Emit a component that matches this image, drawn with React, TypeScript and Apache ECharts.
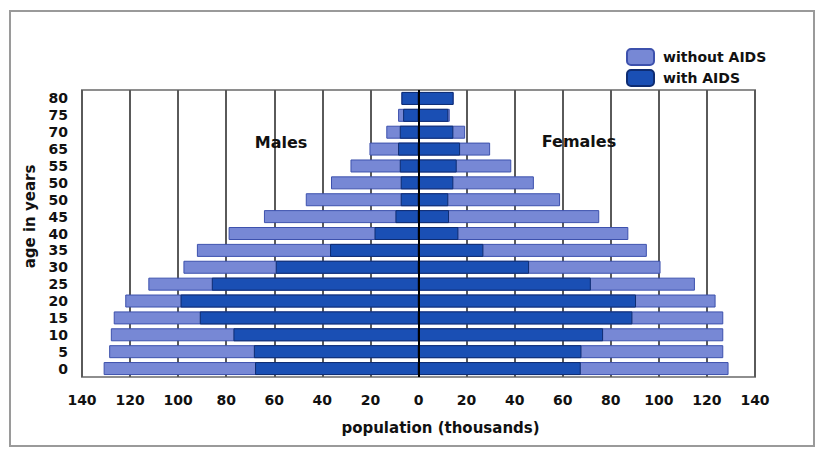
import React, { useEffect, useRef } from "react";
import * as echarts from "echarts";

// age groups, bottom to top (labels as printed in the original)
const ageLabels = ["0", "5", "10", "15", "20", "25", "30", "35", "40", "45", "50", "50", "55", "65", "70", "75", "80"];
// population in thousands
const maleWithout = [131, 128.7, 128, 126.8, 122, 112.4, 97.8, 92.2, 79, 64.3, 46.9, 36.4, 28.3, 20.4, 13.4, 8.5, 7.1];
const maleWith = [68, 68.5, 77, 91, 99, 86, 59.4, 36.8, 18.3, 9.6, 7.4, 7.4, 7.8, 8.5, 7.8, 6.4, 7.1];
const femaleWithout = [129, 126.8, 126.8, 126.8, 123.6, 115, 100.7, 95, 87.3, 75.2, 58.9, 48, 38.6, 29.8, 19.4, 13, 14.6];
const femaleWith = [67.5, 67.8, 76.8, 89, 90.5, 71.7, 46, 27, 16.6, 12.7, 12.4, 14.5, 15.9, 17.3, 14.5, 12.4, 14.6];

const xMin = -140;
const xMax = 140;
const xStep = 20;

const FONT = '"DejaVu Sans", sans-serif';
const LIGHT = "#7788d5";
const LIGHT_BORDER = "#3d51ad";
const DARK = "#1a4fb4";
const DARK_BORDER = "#0e2c72";

export default function App() {
  const ref = useRef<HTMLDivElement>(null);

  useEffect(() => {
    if (!ref.current) return;
    const chart = echarts.init(ref.current, null, { renderer: "svg" });
    const neg = (a: number[]) => a.map((v) => -v);
    const lightStyle = { color: LIGHT, borderColor: LIGHT_BORDER, borderWidth: 1 };
    const darkStyle = { color: DARK, borderColor: DARK_BORDER, borderWidth: 1 };

    chart.setOption({
      animation: false,
      backgroundColor: "#ffffff",
      textStyle: { fontFamily: FONT },
      grid: {
        left: 82,
        right: 66,
        top: 90,
        bottom: 75,
        show: true,
        borderColor: "#8e8e8e",
        borderWidth: 2,
        outerBoundsMode: "none",
      },
      legend: {
        orient: "vertical",
        left: 621,
        top: 43,
        itemWidth: 27,
        itemHeight: 16,
        itemGap: 3,
        icon: "roundRect",
        data: ["without AIDS", "with AIDS"],
        textStyle: { fontFamily: FONT, fontWeight: "bold", fontSize: 14, color: "#111", padding: [0, 0, 0, 4] },
      },
      xAxis: {
        type: "value",
        min: xMin,
        max: xMax,
        interval: xStep,
        name: "population (thousands)",
        nameLocation: "middle",
        nameGap: 43,
        nameTextStyle: { fontFamily: FONT, fontWeight: "bold", fontSize: 15, color: "#111", padding: [0, 0, 0, 44] },
        axisLine: { show: false },
        axisTick: { show: false },
        axisLabel: {
          margin: 16,
          fontFamily: FONT,
          fontWeight: "bold",
          fontSize: 14,
          color: "#111",
          formatter: (v: number) => String(Math.abs(v)),
        },
        splitLine: { show: true, lineStyle: { color: "#5a5a5a", width: 2 } },
      },
      yAxis: {
        type: "category",
        data: ageLabels,
        name: "age in years",
        nameLocation: "middle",
        nameRotate: 90,
        nameGap: 44,
        nameTextStyle: { fontFamily: FONT, fontWeight: "bold", fontSize: 15, color: "#111", padding: [0, 0, 0, 34] },
        axisLine: { show: false },
        axisTick: { show: false },
        splitLine: { show: false },
        axisLabel: {
          margin: 14,
          fontFamily: FONT,
          fontWeight: "bold",
          fontSize: 14,
          color: "#111",
          interval: 0,
        },
      },
      series: [
        {
          name: "without AIDS",
          type: "bar",
          data: neg(maleWithout),
          barWidth: 13,
          barGap: "-100%",
          itemStyle: lightStyle,
        },
        {
          name: "without AIDS",
          type: "bar",
          data: femaleWithout,
          barWidth: 13,
          barGap: "-100%",
          itemStyle: lightStyle,
        },
        {
          name: "with AIDS",
          type: "bar",
          data: neg(maleWith),
          barWidth: 13,
          barGap: "-100%",
          itemStyle: darkStyle,
        },
        {
          name: "with AIDS",
          type: "bar",
          data: femaleWith,
          barWidth: 13,
          barGap: "-100%",
          itemStyle: darkStyle,
          markLine: {
            silent: true,
            symbol: "none",
            label: { show: false },
            lineStyle: { color: "#000", width: 2, type: "solid" },
            data: [{ xAxis: 0 }],
          },
        },
      ],
      graphic: [
        {
          type: "rect",
          shape: { x: 10, y: 11, width: 804, height: 435 },
          style: { fill: "none", stroke: "#9a9a9a", lineWidth: 2 },
          silent: true,
          z: 0,
        },
        {
          type: "text",
          z: 100,
          style: {
            text: "Males",
            x: 281,
            y: 142,
            align: "center",
            verticalAlign: "middle",
            fontFamily: FONT,
            fontWeight: "bold",
            fontSize: 16,
            fill: "#111",
          },
        },
        {
          type: "text",
          z: 100,
          style: {
            text: "Females",
            x: 579,
            y: 141,
            align: "center",
            verticalAlign: "middle",
            fontFamily: FONT,
            fontWeight: "bold",
            fontSize: 16,
            fill: "#111",
          },
        },
      ],
    });

    return () => chart.dispose();
  }, []);

  return (
    <div
      ref={ref}
      style={{ position: "fixed", left: 0, top: 0, width: 821, height: 452 }}
    />
  );
}
